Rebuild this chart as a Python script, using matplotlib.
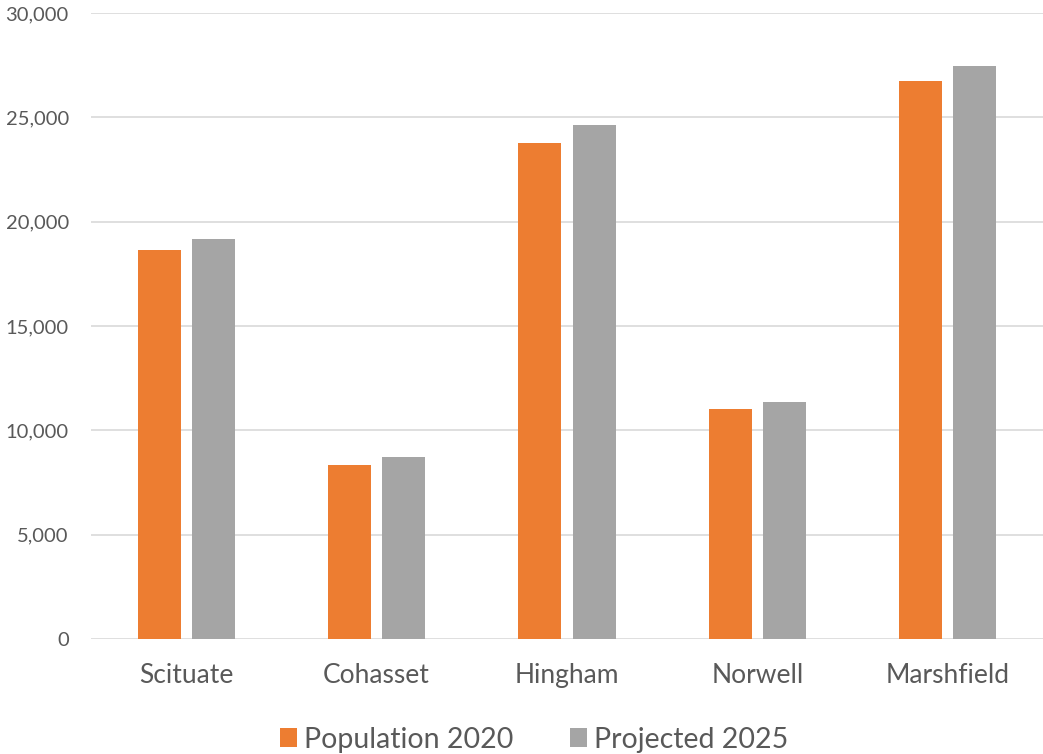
import matplotlib
matplotlib.use("Agg")
import matplotlib.pyplot as plt
from matplotlib.ticker import FuncFormatter
import numpy as np

# Населённые пункты и численность
towns = ["Scituate", "Cohasset", "Hingham", "Norwell", "Marshfield"]
pop_2020 = [18650, 8330, 23750, 11010, 26720]
proj_2025 = [19150, 8710, 24610, 11350, 27440]

orange = "#ED7D31"
gray = "#A5A5A5"
text_color = "#595959"

plt.rcParams["font.family"] = ["Lato", "DejaVu Sans"]

fig = plt.figure(figsize=(10.43, 7.54), dpi=100)
ax = fig.add_axes([91 / 1043, 115 / 754, 952 / 1043, 626 / 754])

x = np.arange(len(towns))
w = 0.226
off = 0.142
ax.bar(x - off, pop_2020, w, color=orange, label="Population 2020", zorder=3)
ax.bar(x + off, proj_2025, w, color=gray, label="Projected 2025", zorder=3)

ax.set_xlim(-0.5, len(towns) - 0.5)
ax.set_ylim(0, 30000)
ax.set_yticks(range(0, 30001, 5000))
ax.yaxis.set_major_formatter(FuncFormatter(lambda v, p: f"{int(v):,}"))
ax.set_xticks(x)
ax.set_xticklabels(towns)

ax.grid(axis="y", color="#D9D9D9", linewidth=1.2, zorder=0)
for s in ax.spines.values():
    s.set_visible(False)
ax.tick_params(axis="both", length=0, colors=text_color)
ax.tick_params(axis="y", pad=16, labelsize=14.5)
ax.tick_params(axis="x", pad=17, labelsize=19)

leg = fig.legend(loc="lower center", ncol=2, frameon=False, fontsize=20.5,
                 bbox_to_anchor=(0.512, -0.032), handlelength=0.6, handleheight=0.6,
                 handletextpad=0.25, columnspacing=2.0)
for t in leg.get_texts():
    t.set_color(text_color)

fig.savefig("out.png", dpi=100)
